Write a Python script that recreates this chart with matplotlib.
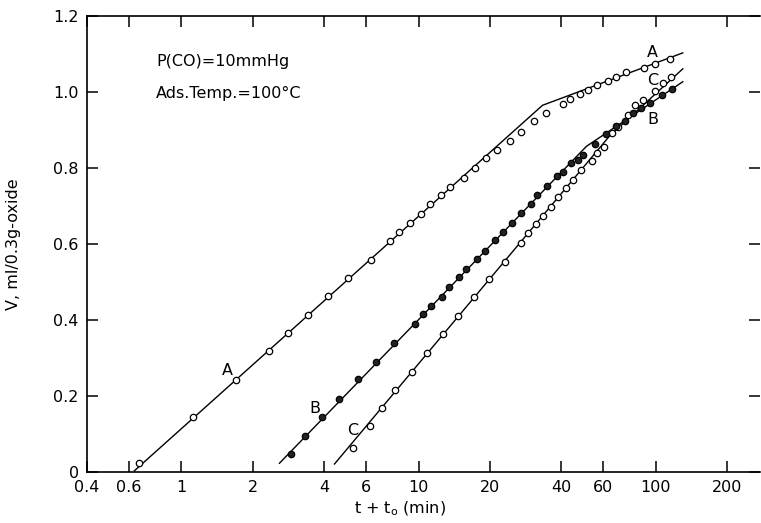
import matplotlib
matplotlib.use("Agg")
import matplotlib.pyplot as plt
from matplotlib.ticker import FixedLocator, FixedFormatter, NullLocator

# ---- data ----
A_x = [0.665, 1.124, 1.695, 2.33, 2.82, 3.43, 4.16, 5.05, 6.27, 7.6, 8.3, 9.22, 10.2,
       11.2, 12.4, 13.6, 15.6, 17.3, 19.2, 21.5, 24.3, 27.1, 30.6, 34.3, 40.5, 43.4,
       48, 52, 56.5, 63.1, 68, 75, 88.8, 99.3, 115]
A_y = [0.023, 0.146, 0.242, 0.318, 0.367, 0.413, 0.463, 0.51, 0.558, 0.609, 0.631,
       0.656, 0.678, 0.705, 0.729, 0.751, 0.775, 0.799, 0.827, 0.848, 0.872, 0.896,
       0.923, 0.946, 0.968, 0.982, 0.994, 1.006, 1.018, 1.029, 1.039, 1.052, 1.064,
       1.075, 1.088]

B_x = [2.90, 3.31, 3.90, 4.61, 5.53, 6.59, 7.85, 9.65, 10.4, 11.3, 12.5, 13.4, 14.8,
       15.9, 17.6, 19.0, 20.9, 22.8, 24.8, 27.1, 29.7, 31.6, 34.9, 38.5, 40.6, 43.8,
       47.0, 49.4, 55.3, 61.5, 67.8, 74.0, 80.2, 87, 94.3, 105.8, 116.5]
B_y = [0.047, 0.095, 0.144, 0.192, 0.244, 0.289, 0.339, 0.389, 0.415, 0.436, 0.461,
       0.486, 0.513, 0.534, 0.560, 0.582, 0.611, 0.631, 0.656, 0.681, 0.705, 0.729,
       0.753, 0.779, 0.789, 0.813, 0.822, 0.834, 0.863, 0.889, 0.911, 0.924, 0.944,
       0.957, 0.972, 0.992, 1.007]

C_x = [5.28, 6.21, 7.03, 7.97, 9.34, 10.8, 12.7, 14.7, 17.2, 19.9, 23.1, 26.9, 29.0,
       31.2, 33.5, 36.0, 38.7, 41.7, 44.8, 48.3, 53.6, 56.5, 60.5, 65.4, 69.4, 76.4,
       82, 88.4, 99, 107.5, 115.4]
C_y = [0.062, 0.122, 0.169, 0.215, 0.264, 0.312, 0.362, 0.411, 0.460, 0.508, 0.552,
       0.602, 0.628, 0.652, 0.674, 0.698, 0.723, 0.747, 0.768, 0.795, 0.818, 0.840,
       0.854, 0.891, 0.909, 0.939, 0.966, 0.979, 1.003, 1.023, 1.039]

# fitted straight-line segments drawn in the figure
A_line_x = [0.633, 33.3, 130]
A_line_y = [0.003, 0.965, 1.103]
B_line_x = [2.59, 51, 130]
B_line_y = [0.023, 0.857, 1.027]
C_line_x = [4.42, 64, 130]
C_line_y = [0.021, 0.885, 1.061]

x_ticks = [0.4, 0.6, 1, 2, 4, 6, 10, 20, 40, 60, 100, 200]
x_tick_labels = ["0.4", "0.6", "1", "2", "4", "6", "10", "20", "40", "60", "100", "200"]
y_ticks = [0, 0.2, 0.4, 0.6, 0.8, 1.0, 1.2]
y_tick_labels = ["0", "0.2", "0.4", "0.6", "0.8", "1.0", "1.2"]

plt.rcParams['font.family'] = ['DejaVu Sans']

fig = plt.figure(figsize=(7.61, 5.23), dpi=100)
ax = fig.add_axes([87/761, 51/523, 673/761, 456/523])

lw = 1.0
ax.plot(A_line_x, A_line_y, color='black', lw=lw)
ax.plot(B_line_x, B_line_y, color='black', lw=lw)
ax.plot(C_line_x, C_line_y, color='black', lw=lw)

ms = 4.6
ax.plot(A_x, A_y, 'o', ms=ms, mfc='white', mec='black', mew=0.9, zorder=3)
ax.plot(C_x, C_y, 'o', ms=ms, mfc='white', mec='black', mew=0.9, zorder=3)
ax.plot(B_x, B_y, 'o', ms=ms, mfc='#222222', mec='black', mew=0.9, zorder=3)

ax.set_xscale('log')
ax.set_xlim(0.4, 275)
ax.set_ylim(0, 1.2)

ax.xaxis.set_major_locator(FixedLocator(x_ticks))
ax.xaxis.set_major_formatter(FixedFormatter(x_tick_labels))
ax.xaxis.set_minor_locator(NullLocator())
ax.set_yticks(y_ticks)
ax.set_yticklabels(y_tick_labels)

ax.tick_params(axis='both', which='major', direction='in', length=8, width=1.1,
               labelsize=11.5, top=True, right=True, pad=6)
for s in ['left', 'bottom', 'top']:
    ax.spines[s].set_linewidth(1.2)
ax.spines['right'].set_visible(False)

ax.set_xlabel("t + t$_\\mathregular{o}$ (min)", fontsize=11.5)
ax.xaxis.set_label_coords(0.465, -0.06)
ax.set_ylabel("V, ml/0.3g-oxide", fontsize=11.5)
ax.yaxis.set_label_coords(-0.098, 0.5)

fs = 11.5
ax.text(0.784, 1.079, "P(CO)=10mmHg", fontsize=fs, va='center', ha='left')
ax.text(0.784, 0.997, "Ads.Temp.=100°C", fontsize=fs, va='center', ha='left')

ax.text(1.56, 0.266, "A", fontsize=fs, ha='center', va='center')
ax.text(96.8, 1.104, "A", fontsize=fs, ha='center', va='center')
ax.text(3.64, 0.168, "B", fontsize=fs, ha='center', va='center')
ax.text(96.8, 0.928, "B", fontsize=fs, ha='center', va='center')
ax.text(5.25, 0.11, "C", fontsize=fs, ha='center', va='center')
ax.text(97.5, 1.03, "C", fontsize=fs, ha='center', va='center')

fig.savefig("out.png", dpi=100)
